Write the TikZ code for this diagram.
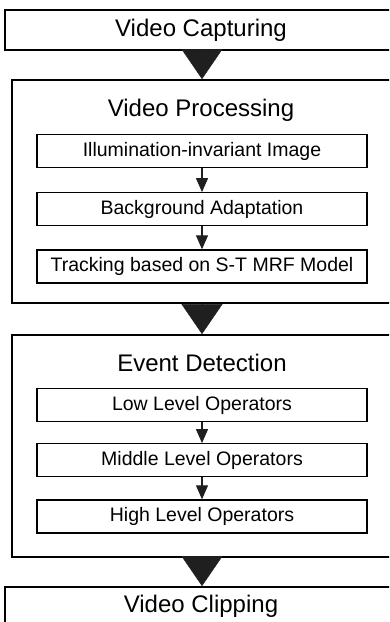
\documentclass[tikz,border=0pt]{standalone}
\usepackage{fontspec}
\setmainfont{Liberation Sans}
\usetikzlibrary{positioning,arrows.meta}

\begin{document}
\begin{tikzpicture}[
    x=1pt, y=1pt,
    stage/.style={rectangle, draw, line width=1.8pt, minimum width=430pt, inner sep=0pt},
    group/.style={rectangle, draw, line width=1.8pt, minimum width=420pt, inner sep=0pt},
    substep/.style={rectangle, draw, line width=1.2pt, minimum width=330pt, minimum height=33pt,
                    inner sep=0pt, font=\fontsize{19.5}{22}\selectfont},
    title/.style={font=\fontsize{24}{28}\selectfont},
    bigarrow/.style={-{Triangle[length=30pt, width=41pt]}, line width=0.4pt, draw=black!88, fill=black!88},
    smallarrow/.style={-{Triangle[length=14pt, width=12pt]}, line width=1.1pt, draw=black!88, fill=black!88}
]
\useasboundingbox (0,0) rectangle (389,-622);
\clip (0,0) rectangle (389,-622);

% ============ VIDEO CAPTURING ============
\node[stage, minimum height=40pt] (capture) at (220,-30) {};
\node[title] (capture_title) at (201,-30) {Video Capturing};

% ============ VIDEO PROCESSING ============
\node[group, minimum height=223pt] (processing) at (222,-191.5) {};
\node[title] (processing_title) at (201,-110) {Video Processing};

\node[substep] (illum) at (202,-151) {Illumination-invariant Image};
\node[substep, below=24pt of illum] (background) {Background Adaptation};
\node[substep, below=23pt of background] (tracking) {Tracking based on S-T MRF Model};

\draw[smallarrow] (illum) -- (background);
\draw[smallarrow] (background) -- (tracking);

% ============ EVENT DETECTION ============
\node[group, minimum height=222pt] (detection) at (222,-446) {};
\node[title] (detection_title) at (202,-363) {Event Detection};

\node[substep] (low) at (202,-405) {Low Level Operators};
\node[substep, below=21pt of low] (middle) {Middle Level Operators};
\node[substep, below=22pt of middle] (high) {High Level Operators};

\draw[smallarrow] (low) -- (middle);
\draw[smallarrow] (middle) -- (high);

% ============ VIDEO CLIPPING ============
\node[stage, minimum height=60pt] (clipping) at (220,-617) {};
\node[title] (clipping_title) at (201,-606) {Video Clipping};

% Stage arrows
\draw[bigarrow] (capture.south -| illum.center) -- (processing.north -| illum.center);
\draw[bigarrow] (processing.south -| illum.center) -- (detection.north -| illum.center);
\draw[bigarrow] (detection.south -| illum.center) -- (clipping.north -| illum.center);

\end{tikzpicture}
\end{document}
